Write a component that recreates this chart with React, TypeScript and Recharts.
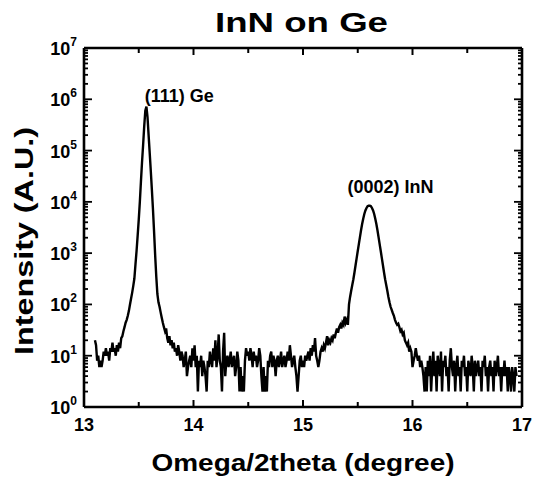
import React from "react";
import {
  LineChart,
  Line,
  XAxis,
  YAxis,
  ReferenceDot,
} from "recharts";

const FONT = '"Liberation Sans", Arial, sans-serif';

// scan grid: 13.10 .. 16.95 deg, 0.01 deg per step
const scanStart = 13.1;
const scanStep = 0.01;

// counts, one row = 0.1 deg
const intensity = [
  20, 16, 8, 10, 6, 8, 6, 8, 12, 10,
  14, 10, 12, 8, 14, 12, 18, 12, 14, 10,
  16, 12, 18, 14, 22, 24, 30, 36, 44, 50,
  60, 75, 100, 130, 170, 230, 320, 600, 1100, 2200,
  4500, 10000, 25000, 60000, 130000, 300000, 600000, 720000, 450000, 200000,
  90000, 40000, 17000, 7000, 2600, 900, 350, 160, 110, 90,
  70, 55, 44, 36, 30, 34, 22, 18, 24, 16,
  20, 14, 18, 12, 14, 10, 16, 12, 8, 12,
  10, 6, 8, 12, 4, 6, 8, 10, 6, 14,
  8, 16, 6, 10, 2, 8, 6, 10, 4, 8,
  6, 4, 2, 8, 6, 12, 8, 6, 14, 8,
  20, 6, 10, 26, 8, 6, 2, 12, 28, 4,
  8, 10, 6, 8, 12, 6, 8, 10, 4, 6,
  12, 8, 2, 6, 2, 4, 2, 8, 14, 10,
  12, 8, 14, 10, 6, 12, 8, 10, 6, 8,
  14, 10, 4, 2, 6, 2, 4, 2, 8, 6,
  10, 12, 6, 10, 8, 4, 8, 10, 6, 8,
  12, 6, 8, 10, 6, 8, 12, 8, 16, 10,
  6, 8, 10, 6, 4, 2, 4, 8, 10, 6,
  8, 6, 10, 8, 10, 12, 8, 14, 10, 16,
  12, 22, 10, 8, 6, 8, 12, 14, 12, 16,
  14, 18, 24, 16, 20, 18, 22, 20, 26, 22,
  28, 34, 28, 36, 40, 34, 44, 40, 58, 44,
  50, 40, 100, 140, 185, 240, 310, 420, 580, 800,
  1100, 1500, 2050, 2800, 3700, 4700, 5800, 6800, 7600, 8200,
  8400, 8400, 8200, 7600, 6800, 5800, 4700, 3700, 2800, 2050,
  1500, 1100, 800, 580, 420, 310, 240, 185, 140, 110,
  90, 78, 68, 60, 50, 44, 40, 42, 36, 30,
  32, 26, 28, 20, 18, 16, 18, 12, 14, 12,
  6, 8, 10, 14, 10, 8, 10, 6, 8, 6,
  4, 2, 6, 2, 8, 4, 10, 2, 6, 12,
  4, 8, 2, 10, 6, 4, 12, 2, 8, 6,
  10, 4, 6, 2, 8, 14, 6, 4, 8, 2,
  6, 10, 4, 6, 2, 8, 6, 10, 4, 6,
  2, 8, 6, 4, 10, 6, 2, 8, 4, 6,
  8, 4, 6, 2, 8, 6, 10, 4, 6, 2,
  6, 8, 4, 6, 2, 8, 4, 6, 10, 4,
  6, 2, 6, 4, 8, 4, 6, 2, 6, 4,
  2, 6, 4, 2, 6, 4,
];

const xTicks = [13, 13.5, 14, 14.5, 15, 15.5, 16, 16.5, 17];
const decades = [0, 1, 2, 3, 4, 5, 6, 7];
const yTicks: number[] = [];
decades.forEach((e) => {
  if (e === 7) {
    yTicks.push(1e7);
    return;
  }
  for (let m = 1; m <= 9; m++) yTicks.push(m * Math.pow(10, e));
});

const peakLabels = [
  { x: 13.87, y: 1.2e6, text: "(111) Ge" },
  { x: 15.8, y: 2.0e4, text: "(0002) InN" },
];

const data = intensity.map((v, i) => ({
  angle: +(scanStart + i * scanStep).toFixed(2),
  counts: v,
}));

const isDecade = (v: number) => Math.abs(Math.log10(v) - Math.round(Math.log10(v))) < 1e-6;

const frame = { stroke: "#000", strokeWidth: 2.6 };

const BottomTick = (props: any) => {
  const { x, y, payload } = props;
  const major = Number.isInteger(payload.value);
  return (
    <g>
      <line x1={x} x2={x} y1={y} y2={y - (major ? 7 : 5)} stroke="#000" strokeWidth={2} />
      {major && (
        <text x={x} y={y + 24} textAnchor="middle" fontSize={18} fontWeight="bold" fontFamily={FONT} fill="#000">
          {payload.value}
        </text>
      )}
    </g>
  );
};

const TopTick = (props: any) => {
  const { x, y, payload } = props;
  const major = Number.isInteger(payload.value);
  return <line x1={x} x2={x} y1={y} y2={y + (major ? 7 : 5)} stroke="#000" strokeWidth={2} />;
};

const LeftTick = (props: any) => {
  const { x, y, payload } = props;
  const major = isDecade(payload.value);
  const exp = Math.round(Math.log10(payload.value));
  return (
    <g>
      <line x1={x} x2={x + (major ? 8 : 4)} y1={y} y2={y} stroke="#000" strokeWidth={1.8} />
      {major && (
        <text x={x - 7} y={y + 7} textAnchor="end" fontSize={18} fontWeight="bold" fontFamily={FONT} fill="#000">
          10
          <tspan dy={-9} fontSize={12}>
            {exp}
          </tspan>
        </text>
      )}
    </g>
  );
};

const RightTick = (props: any) => {
  const { x, y, payload } = props;
  const major = isDecade(payload.value);
  return <line x1={x} x2={x - (major ? 8 : 4)} y1={y} y2={y} stroke="#000" strokeWidth={1.8} />;
};

export default function App() {
  return (
    <div style={{ position: "absolute", left: 0, top: 0, background: "#fff" }}>
      <LineChart
        width={534}
        height={477}
        data={data}
        margin={{ top: 47, right: 11, bottom: 0, left: 0 }}
      >
        <XAxis
          xAxisId="b"
          dataKey="angle"
          type="number"
          domain={[13, 17]}
          ticks={xTicks}
          height={70}
          tickSize={0}
          tickMargin={0}
          axisLine={frame}
          tickLine={false}
          tick={BottomTick}
          interval={0}
          allowDataOverflow
          label={{
            content: (p: any) => {
              const vb = p.viewBox;
              return (
                <text
                  x={vb.x + vb.width / 2}
                  y={vb.y + 64}
                  textAnchor="middle"
                  fontSize={24}
                  fontWeight="bold"
                  fontFamily={FONT}
                  textLength={303}
                  lengthAdjust="spacingAndGlyphs"
                  fill="#000"
                >
                  Omega/2theta (degree)
                </text>
              );
            },
          }}
        />
        <XAxis
          xAxisId="t"
          dataKey="angle"
          type="number"
          orientation="top"
          domain={[13, 17]}
          ticks={xTicks}
          height={1}
          tickSize={0}
          tickMargin={0}
          axisLine={frame}
          tickLine={false}
          tick={TopTick}
          interval={0}
          allowDataOverflow
        />
        <YAxis
          yAxisId="l"
          scale="log"
          domain={[1, 1e7]}
          ticks={yTicks}
          width={84}
          tickSize={0}
          tickMargin={0}
          axisLine={frame}
          tickLine={false}
          tick={LeftTick}
          interval={0}
          allowDataOverflow
          label={{
            content: () => (
              <g>
                <text
                  x={301.5}
                  y={32}
                  textAnchor="middle"
                  fontSize={27}
                  fontWeight="bold"
                  fontFamily={FONT}
                  textLength={173}
                  lengthAdjust="spacingAndGlyphs"
                  fill="#000"
                >
                  InN on Ge
                </text>
                <text
                  x={33}
                  y={241}
                  transform="rotate(-90 33 241)"
                  textAnchor="middle"
                  fontSize={25}
                  fontWeight="bold"
                  fontFamily={FONT}
                  textLength={228}
                  lengthAdjust="spacingAndGlyphs"
                  fill="#000"
                >
                  Intensity (A.U.)
                </text>
              </g>
            ),
          }}
        />
        <YAxis
          yAxisId="r"
          orientation="right"
          scale="log"
          domain={[1, 1e7]}
          ticks={yTicks}
          width={1}
          tickSize={0}
          tickMargin={0}
          axisLine={frame}
          tickLine={false}
          tick={RightTick}
          interval={0}
          allowDataOverflow
        />
        <Line
          xAxisId="b"
          yAxisId="l"
          dataKey="counts"
          type="linear"
          stroke="#000"
          strokeWidth={2.4}
          dot={false}
          isAnimationActive={false}
        />
        {peakLabels.map((p) => (
          <ReferenceDot
            key={p.text}
            xAxisId="b"
            yAxisId="l"
            x={p.x}
            y={p.y}
            r={0}
            fill="none"
            stroke="none"
            label={{
              value: p.text,
              position: "center",
              fill: "#000",
              fontSize: 18,
              fontWeight: "bold",
              fontFamily: FONT,
            }}
          />
        ))}
      </LineChart>
    </div>
  );
}
